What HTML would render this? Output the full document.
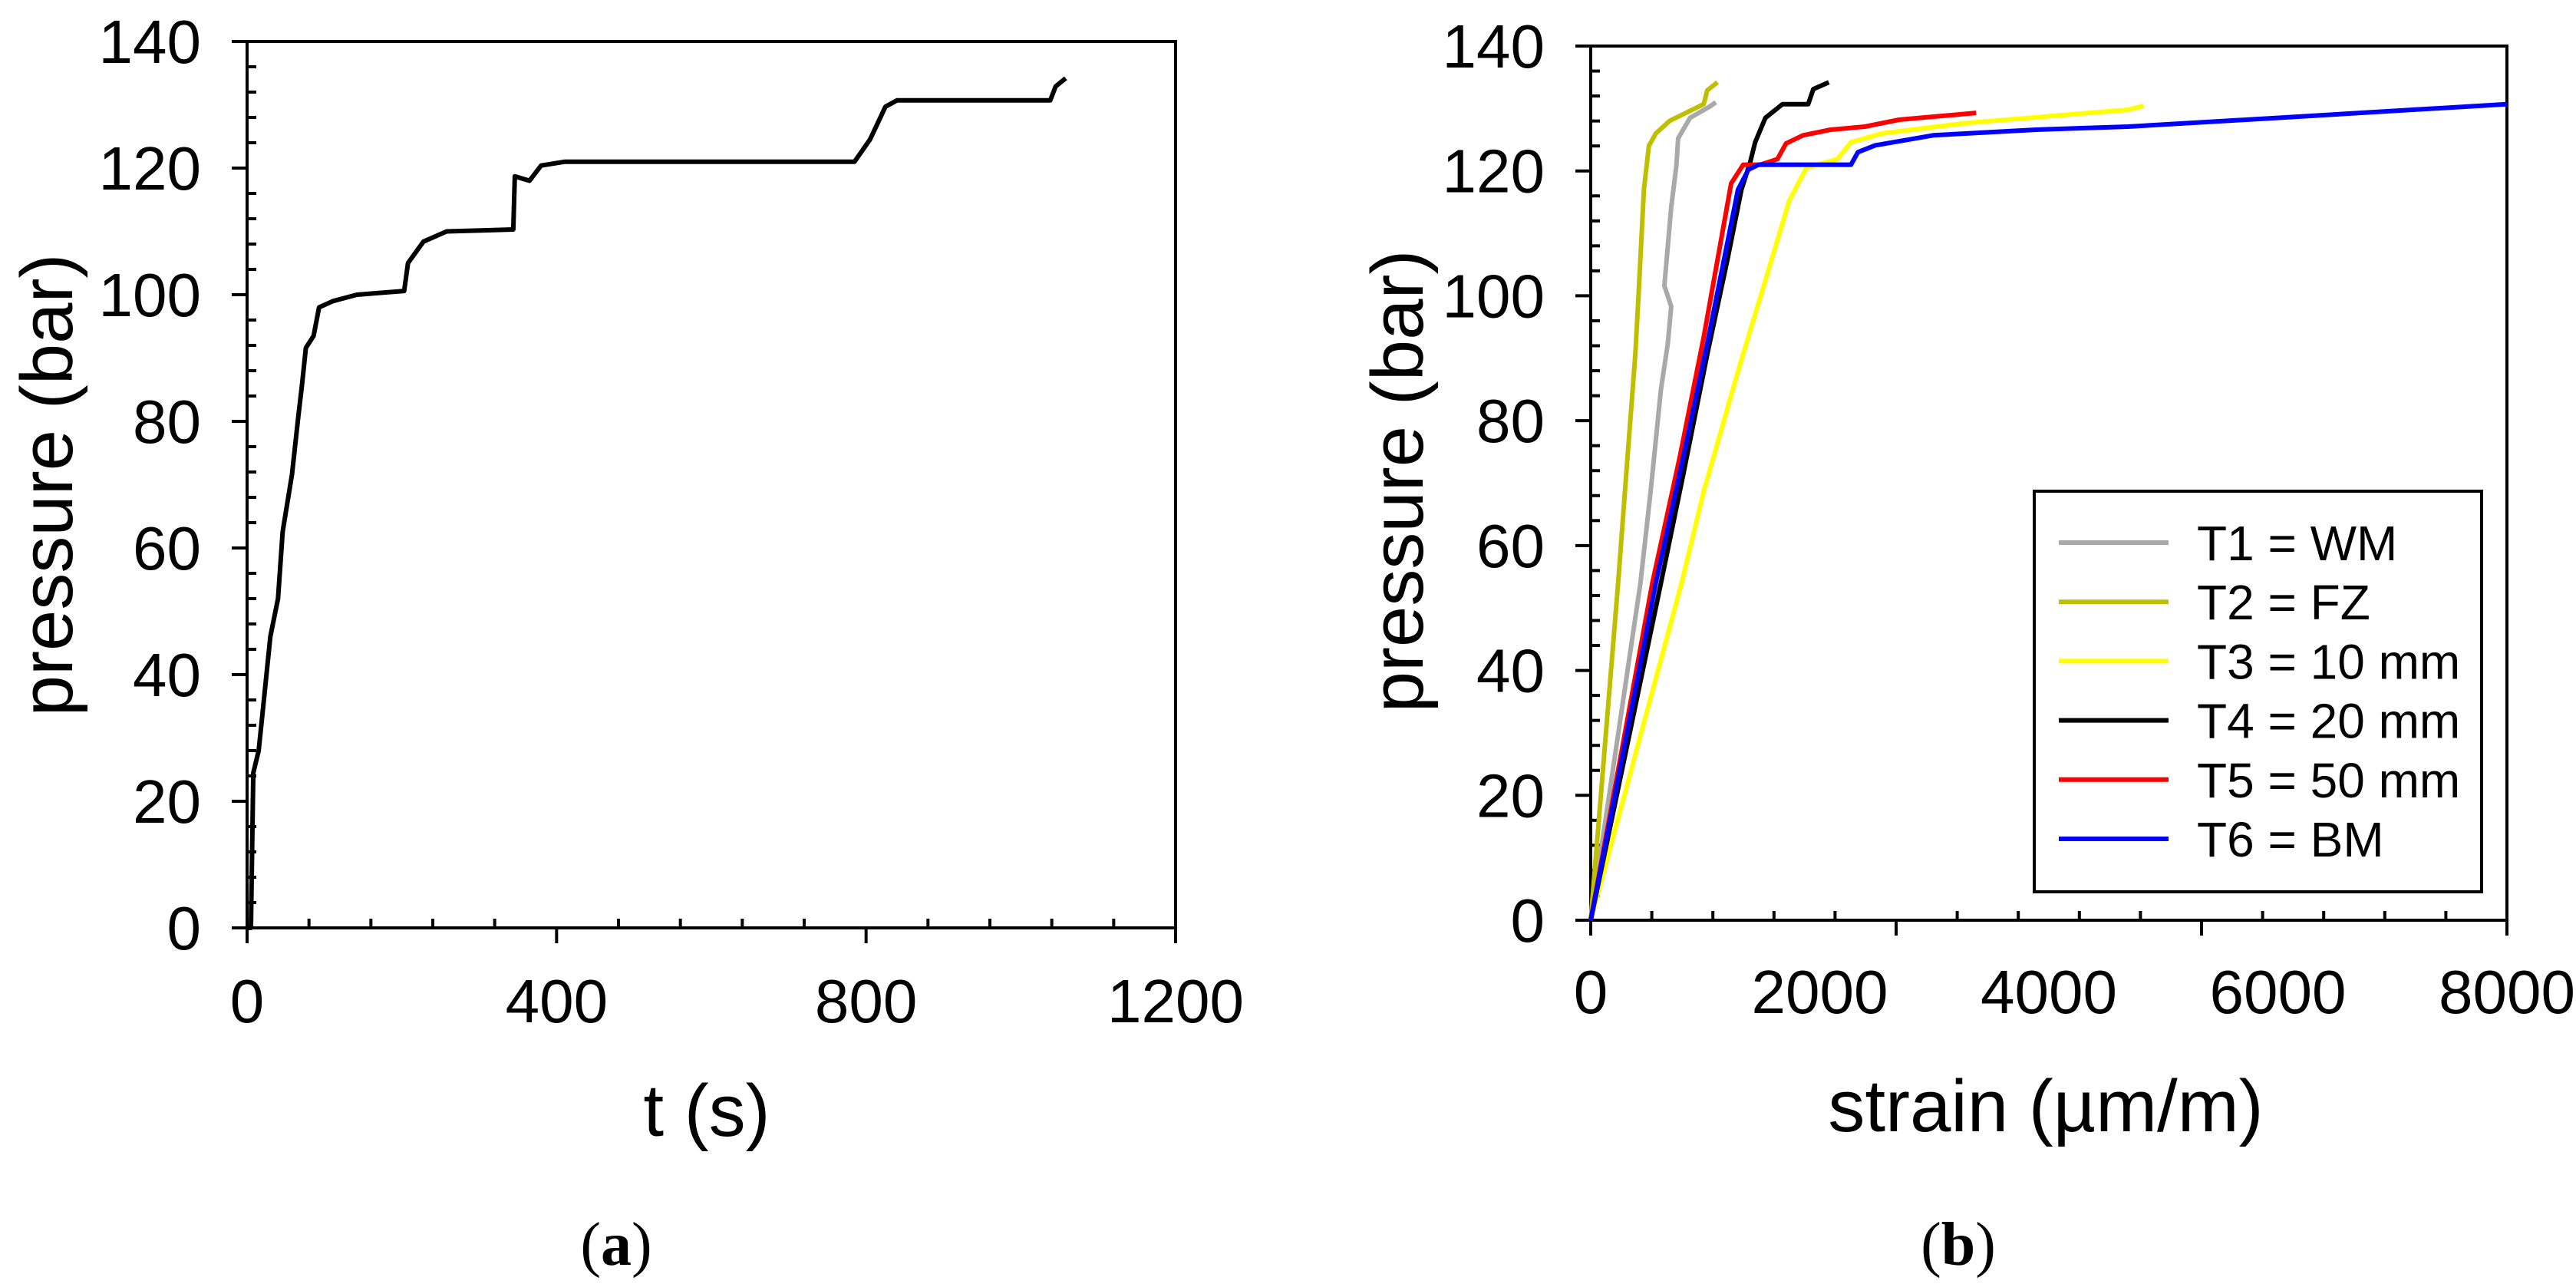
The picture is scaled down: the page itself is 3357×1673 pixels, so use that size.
<!DOCTYPE html>
<html><head><meta charset="utf-8">
<style>
html,body{margin:0;padding:0;background:#fff;}
svg{display:block;}
text{font-family:"Liberation Sans",Arial,sans-serif;fill:#000;}
.serif{font-family:"Liberation Serif","Times New Roman",serif;}
</style></head>
<body>
<svg id="fig" xmlns="http://www.w3.org/2000/svg" width="3357" height="1673" viewBox="0 0 3357 1673"></svg>
<script>
// ---------- Chart (a) data ----------
const timeS = [0,5,8,15,20,30,40,46,58,66,71,76,86,93,111,142,203,208,228,258,344,346,365,380,410,785,805,825,840,1038,1045,1058];
const pressureA = [0,0,24.5,28,34,46,52,62.6,71.6,80.6,85.8,91.6,93.5,98,99,100,100.6,105,108.4,110,110.3,118.7,118,120.4,121,121,124.5,129.7,130.7,130.7,132.9,134.2];
const xTicksA = [0,400,800,1200];
const yTicks = [0,20,40,60,80,100,120,140];

// ---------- Chart (b) data ----------
const seriesNames = ["T1 = WM","T2 = FZ","T3 = 10 mm","T4 = 20 mm","T5 = 50 mm","T6 = BM"];
const seriesColors = ["#a9a9a9","#bfbf00","#ffff00","#000000","#ff0000","#0000ff"];
const strainT1 = [0,434,523,613,673,703,643,703,748,763,867,1047,1092];
const presT1   = [0,54,68.7,85,92.3,98.3,101.6,114.2,120.8,125.2,128.5,130.4,131];
const strainT2 = [0,239,299,389,419,464,508,568,688,987,1017,1107];
const presT2   = [0,54,68.7,90.6,100.5,117,124,126,128,130.7,132.9,134.2];
const strainT3 = [0,793,987,1286,1555,1735,1884,2154,2273,2542,3290,4690,4826];
const presT3   = [0,54,68.7,87.9,104.3,115.3,120.5,121.9,124.6,126,127.7,129.8,130.4];
const strainT4 = [0,613,808,1017,1196,1316,1391,1436,1525,1675,1899,1944,2079];
const presT4   = [0,54,71.4,90.6,106,117,121.3,124.6,128.5,130.7,130.7,133.1,134.2];
const strainT5 = [0,538,778,987,1226,1331,1481,1630,1705,1854,2094,2393,2692,3365];
const presT5   = [0,54,74.2,93.4,118,121,121,121.9,124.4,125.7,126.6,127.1,128.2,129.3];
const strainT6 = [0,568,808,1017,1286,1376,1466,2273,2333,2483,2991,3888,4690,5994,8000];
const presT6   = [0,54,74.2,92.3,117,120.2,121,121,123,124.1,125.7,126.6,127.1,128.5,130.7];
const xTicksB = [0,2000,4000,6000,8000];

const NS="http://www.w3.org/2000/svg";
const svg=document.getElementById('fig');
function mk(tag,attrs,parent){const e=document.createElementNS(NS,tag);for(const k in attrs)e.setAttribute(k,attrs[k]);(parent||svg).appendChild(e);return e;}

function drawPanel(o){
  const g=mk('g',{});
  
  
  const sx=v=>o.x0+(v-o.xmin)/(o.xmax-o.xmin)*(o.x1-o.x0);
  const sy=v=>o.y0-(v/140)*(o.y0-o.y1);
  const fr=mk('rect',{x:o.x0,y:o.y1,width:o.x1-o.x0,height:o.y0-o.y1,fill:'none',stroke:'#000','stroke-width':4},g);
  
  
  for(let v=0;v<=140;v+=4){
    const y=sy(v);
    if(v%20===0){
      const t=mk('line',{x1:o.x0-20,x2:o.x0,y1:y,y2:y,stroke:'#000','stroke-width':4},g);
      
      
    } else {
      const t=mk('line',{x1:o.x0,x2:o.x0+12,y1:y,y2:y,stroke:'#000','stroke-width':4},g);
      
      
    }
  }
  yTicks.forEach(v=>{
    const t=mk('text',{x:o.ylabX,y:sy(v)+28,'text-anchor':'end','font-size':80},g);
    t.textContent=v;
    
    
  });
  const step=(o.xmax-o.xmin)/15;
  for(let i=0;i<=15;i++){
    const x=sx(o.xmin+i*step);
    if(i%5===0){
      const t=mk('line',{x1:x,x2:x,y1:o.y0,y2:o.y0+20,stroke:'#000','stroke-width':4},g);
      
      
    } else {
      const t=mk('line',{x1:x,x2:x,y1:o.y0,y2:o.y0-12,stroke:'#000','stroke-width':4},g);
      
      
    }
  }
  o.xTicks.forEach(v=>{
    const t=mk('text',{x:sx(v),y:o.xlabY,'text-anchor':'middle','font-size':80},g);
    t.textContent=v;
    
    
  });
  const xt=mk('text',{x:o.xtX,y:o.xtY,'text-anchor':'middle','font-size':96},g);
  xt.textContent=o.xTitle;
  
  
  const yt=mk('text',{x:0,y:0,'text-anchor':'middle','font-size':96,transform:`translate(${o.ytX},${o.ytY}) rotate(-90)`},g);
  yt.textContent='pressure (bar)';
  
  
  const cap=mk('text',{x:o.capX,y:1648,'text-anchor':'middle','font-size':80,'class':'serif'},g);
  cap.innerHTML='(<tspan font-weight="bold">'+o.cap+'</tspan>)';
  
  
  o.series.forEach(s=>{
    const d=s.xs.map((v,i)=>(i?'L':'M')+sx(v).toFixed(1)+','+sy(s.ys[i]).toFixed(1)).join(' ');
    const p=mk('path',{d:d,fill:'none',stroke:s.color,'stroke-width':6,'stroke-linejoin':'round'},g);
    
    
  });
  return g;
}

drawPanel({name:'chart-a-pressure-vs-time',x0:322,x1:1532,y0:1209,y1:54,xmin:0,xmax:1200,xTicks:xTicksA,
  ylabX:262,xlabY:1332,xTitle:'t (s)',xtX:921,xtY:1480,ytX:94,ytY:632,capX:803,cap:'a',
  series:[{name:'pressure-time-line',color:'#000',xs:timeS,ys:pressureA}]});

const bSeries=[[strainT1,presT1],[strainT2,presT2],[strainT3,presT3],[strainT4,presT4],[strainT5,presT5],[strainT6,presT6]]
  .map((p,i)=>({name:'series-t'+(i+1),color:seriesColors[i],xs:p[0],ys:p[1]}));
drawPanel({name:'chart-b-pressure-vs-strain',x0:2073,x1:3267,y0:1199,y1:60,xmin:0,xmax:8000,xTicks:xTicksB,
  ylabX:2013,xlabY:1320,xTitle:'strain (\u00b5m/m)',xtX:2666,xtY:1474,ytX:1854,ytY:627,capX:2552,cap:'b',
  series:bSeries});

const lg=mk('g',{});


const lb=mk('rect',{x:2651,y:640,width:583,height:522,fill:'#fff',stroke:'#000','stroke-width':4},lg);


seriesNames.forEach((n,i)=>{
  const y=707+i*77.2;
  const l=mk('line',{x1:2683,x2:2826,y1:y,y2:y,stroke:seriesColors[i],'stroke-width':6},lg);
  
  
  const t=mk('text',{x:2863,y:y+23,'font-size':64},lg);
  t.textContent=n;
  
  
});
</script>
</body></html>
